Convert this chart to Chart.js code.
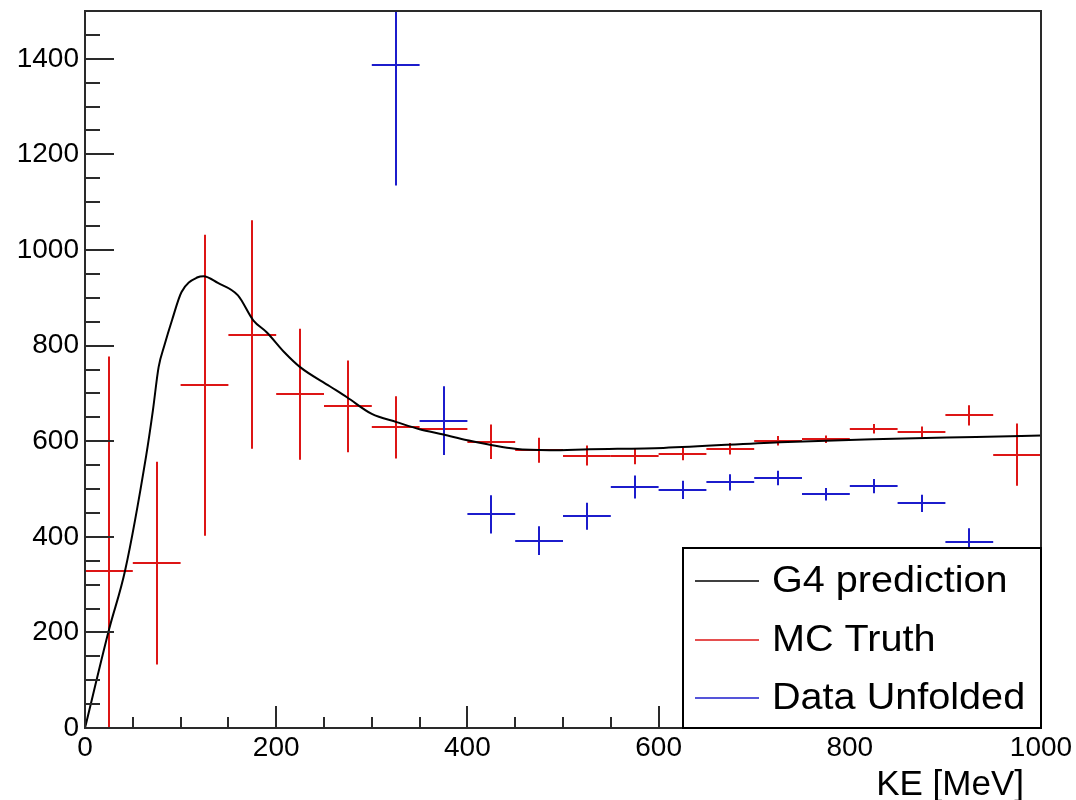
<!DOCTYPE html>
<html>
<head>
<meta charset="utf-8">
<script src="https://cdn.jsdelivr.net/npm/chart.js@4.4.1/dist/chart.umd.min.js"></script>
<style>
  html, body { margin: 0; padding: 0; background: #fff; }
  #wrap { width: 1076px; height: 800px; }
</style>
</head>
<body>
<div id="wrap"><canvas id="grafico" width="1076" height="800"></canvas></div>
<script>
// bins de 50 MeV
const binCenters = [25, 75, 125, 175, 225, 275, 325, 375, 425, 475, 525, 575, 625, 675, 725, 775, 825, 875, 925, 975];
const binHalfWidth = 25;

const mcTruth    = [328, 345, 717, 823, 698, 673, 629, 626, 599, 581, 570, 568, 573, 584, 601, 604, 626, 620, 654, 572];
const mcTruthErr = [449, 212, 315, 239, 137, 96, 65, 48, 36, 26, 21, 16, 13, 12, 10, 8, 10, 11, 21, 65];

const dataUnfolded    = [null, null, null, null, null, null, 1386, 643, 447, 392, 443, 504, 498, 514, 523, 489, 506, 470, 389, null];
const dataUnfoldedErr = [null, null, null, null, null, null, 251, 72, 40, 30, 28, 24, 19, 17, 15, 13, 15, 18, 29, null];

// curva G4
const g4KE  = [0, 25, 42, 64, 71, 77, 83, 91, 101, 118, 124, 139, 160, 176, 190, 209, 225, 256, 274, 300, 326, 350, 375, 400, 450, 486, 528, 605, 727, 824, 932, 1000];
const g4Val = [0, 205, 330, 570, 664, 755, 800, 853, 912, 943, 945, 931, 905, 853, 828, 785, 755, 715, 692, 657, 640, 625, 614, 602, 584, 581, 583, 586, 598, 604, 609, 612];

const xTickLabels = [0, 200, 400, 600, 800, 1000];
const yTickLabels = [0, 200, 400, 600, 800, 1000, 1200, 1400];

const legendItems = ['G4 prediction', 'MC Truth', 'Data Unfolded'];
const axisTitle = 'KE [MeV]';

const RED = '#dd1515';
const BLUE = '#1c1ccc';
const FONT = '"Liberation Sans", Arial, Helvetica, sans-serif';

// desenha as cruzes (erro) de cada bin
const errorBars = {
    id: 'errorBars',
    afterDatasetDraw(chart, args) {
        const ds = chart.data.datasets[args.index];
        if (!ds.errors) return;
        const ctx = chart.ctx;
        const xs = chart.scales.x;
        const ys = chart.scales.y;
        const a = chart.chartArea;
        ctx.save();
        ctx.beginPath();
        ctx.rect(a.left, a.top, a.right - a.left, a.bottom - a.top);
        ctx.clip();
        ctx.strokeStyle = ds.borderColor;
        ctx.lineWidth = 2;
        ds.data.forEach((p, i) => {
            if (p.y === null) return;
            const e = ds.errors[i];
            const px = Math.round(xs.getPixelForValue(p.x));
            const py = Math.round(ys.getPixelForValue(p.y));
            ctx.beginPath();
            ctx.moveTo(xs.getPixelForValue(p.x - binHalfWidth), py);
            ctx.lineTo(xs.getPixelForValue(p.x + binHalfWidth), py);
            ctx.moveTo(px, ys.getPixelForValue(p.y + e));
            ctx.lineTo(px, ys.getPixelForValue(p.y - e));
            ctx.stroke();
        });
        ctx.restore();
    }
};

// moldura, ticks para dentro, legenda e titulo do eixo
const rootFrame = {
    id: 'rootFrame',
    afterDraw(chart) {
        const ctx = chart.ctx;
        const a = chart.chartArea;
        const xs = chart.scales.x;
        const ys = chart.scales.y;
        ctx.save();
        ctx.strokeStyle = '#2a2a2a';
        ctx.lineWidth = 2;
        ctx.strokeRect(a.left, a.top, a.right - a.left, a.bottom - a.top);

        ctx.beginPath();
        for (let v = 0; v <= ys.max; v += 50) {
            const py = Math.round(ys.getPixelForValue(v));
            const len = v % 200 === 0 ? 29 : 15;
            ctx.moveTo(a.left, py);
            ctx.lineTo(a.left + len, py);
        }
        for (let v = 0; v <= xs.max; v += 50) {
            const px = Math.round(xs.getPixelForValue(v));
            const len = v % 200 === 0 ? 22 : 11;
            ctx.moveTo(px, a.bottom);
            ctx.lineTo(px, a.bottom - len);
        }
        ctx.stroke();

        // legenda
        const lx = 683, ly = 548, lw = a.right - 683, lh = a.bottom - 548;
        ctx.fillStyle = '#fff';
        ctx.fillRect(lx, ly, lw, lh);
        ctx.strokeStyle = '#000';
        ctx.strokeRect(lx, ly, lw, lh);
        const colors = ['#000', RED, BLUE];
        const rows = [581, 640, 698];
        legendItems.forEach((txt, i) => {
            ctx.strokeStyle = colors[i];
            ctx.lineWidth = 1.5;
            ctx.beginPath();
            ctx.moveTo(695, rows[i]);
            ctx.lineTo(759, rows[i]);
            ctx.stroke();
            ctx.save();
            ctx.translate(772, rows[i] + 1);
            ctx.scale(1.1, 1);
            ctx.fillStyle = '#000';
            ctx.font = '36px ' + FONT;
            ctx.textBaseline = 'middle';
            ctx.textAlign = 'left';
            ctx.fillText(txt, 0, 0);
            ctx.restore();
        });

        ctx.fillStyle = '#000';
        ctx.font = '35px ' + FONT;
        ctx.textAlign = 'right';
        ctx.textBaseline = 'alphabetic';
        ctx.fillText(axisTitle, 1024, 795);
        ctx.restore();
    }
};

const ctx = document.getElementById('grafico').getContext('2d');

const grafico = new Chart(ctx, {
    type: 'scatter',
    data: {
        datasets: [
            {
                type: 'line',
                label: legendItems[0],
                data: g4KE.map((k, i) => ({ x: k, y: g4Val[i] })),
                borderColor: '#000',
                borderWidth: 2,
                pointRadius: 0,
                cubicInterpolationMode: 'monotone',
                fill: false
            },
            {
                label: legendItems[2],
                data: binCenters.map((k, i) => ({ x: k, y: dataUnfolded[i] })),
                errors: dataUnfoldedErr,
                borderColor: BLUE,
                pointRadius: 0
            },
            {
                label: legendItems[1],
                data: binCenters.map((k, i) => ({ x: k, y: mcTruth[i] })),
                errors: mcTruthErr,
                borderColor: RED,
                pointRadius: 0
            }
        ]
    },
    options: {
        responsive: false,
        animation: false,
        devicePixelRatio: 1,
        layout: {
            padding: { top: 11, right: 35, left: 0, bottom: 0 }
        },
        plugins: {
            legend: { display: false },
            tooltip: { enabled: false }
        },
        scales: {
            x: {
                type: 'linear',
                min: 0,
                max: 1000,
                grid: { display: false, drawTicks: false },
                border: { display: false },
                afterFit: (s) => { s.height = 72; s.paddingLeft = 0; s.paddingRight = 0; },
                afterBuildTicks: (s) => { s.ticks = xTickLabels.map(v => ({ value: v })); },
                ticks: {
                    autoSkip: false,
                    maxRotation: 0,
                    padding: 3,
                    color: '#000',
                    font: { family: FONT, size: 28 },
                    callback: (v) => String(v)
                }
            },
            y: {
                type: 'linear',
                min: 0,
                max: 1500,
                grid: { display: false, drawTicks: false },
                border: { display: false },
                afterFit: (s) => { s.width = 85; s.paddingTop = 0; s.paddingBottom = 0; },
                afterBuildTicks: (s) => { s.ticks = yTickLabels.map(v => ({ value: v })); },
                ticks: {
                    autoSkip: false,
                    padding: 6,
                    color: '#000',
                    font: { family: FONT, size: 28 },
                    callback: (v) => String(v)
                }
            }
        }
    },
    plugins: [errorBars, rootFrame]
});
</script>
</body>
</html>
